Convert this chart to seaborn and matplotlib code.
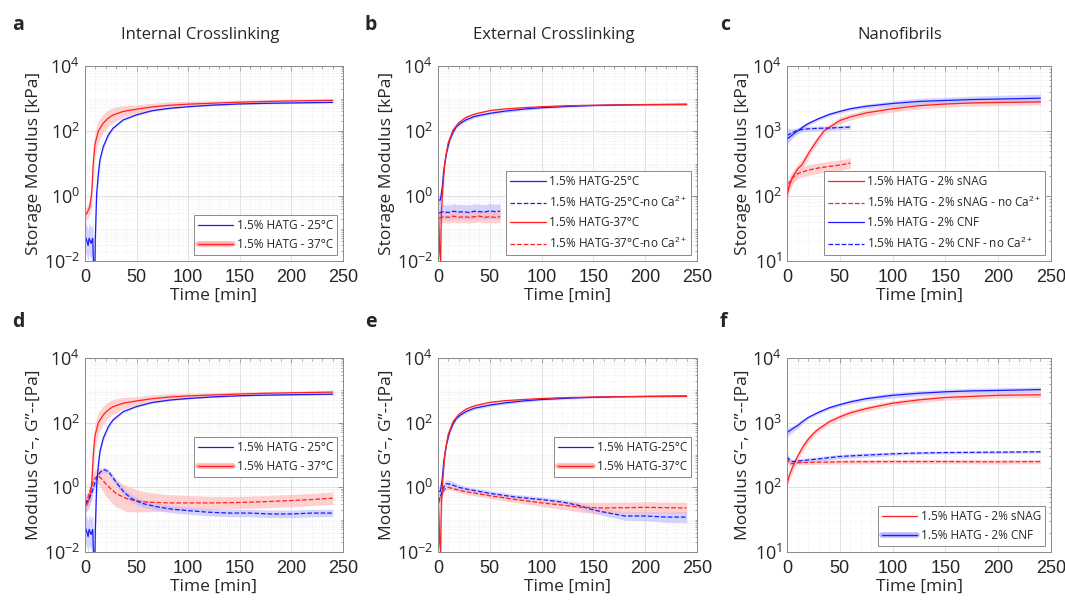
import matplotlib
matplotlib.use("Agg")
import matplotlib.pyplot as plt
from matplotlib.lines import Line2D
from matplotlib.ticker import FixedLocator, MultipleLocator, NullFormatter
import numpy as np
import seaborn as sns

# ---- data (time in min) ----
# G' internal crosslinking (panels a, d)
int25_t = [0, 2, 3, 4, 6, 7.5, 8.5, 9.5, 10, 11.3, 13, 14.5, 17.7, 22.6, 27, 37, 50, 65, 82, 100, 125, 150, 175, 200, 240]
int25_v = [0.06, 0.04, 0.03, 0.05, 0.035, 0.05, 0.004, 0.004, 0.05, 1.2, 5, 13, 33, 75, 120, 220, 315, 420, 500, 560, 630, 680, 710, 730, 760]
int25_s = [3, 3, 3, 3, 3, 3, 3, 3, 3, 2, 1.6, 1.3, 1.2, 1.15, 1.1, 1.08, 1.06, 1.05, 1.05, 1.04, 1.04, 1.04, 1.04, 1.04, 1.04]
int37_t = [0, 2, 4.5, 6.5, 8, 9.7, 13, 17.7, 22, 27, 37, 50, 65, 82, 100, 125, 150, 175, 200, 240]
int37_v = [0.25, 0.3, 0.45, 1.2, 10, 40, 100, 175, 240, 310, 400, 470, 550, 620, 670, 720, 770, 810, 840, 880]
int37_s = [1.6, 1.6, 1.7, 3, 3, 2.5, 2.1, 1.9, 1.8, 1.7, 1.5, 1.35, 1.3, 1.27, 1.22, 1.18, 1.15, 1.13, 1.12, 1.12]
# G'' internal crosslinking (panel d)
int25_g2_t = [0, 3, 6, 9, 12, 15, 19, 23, 27, 32, 38, 45, 55, 70, 85, 100, 120, 140, 160, 180, 200, 220, 240]
int25_g2_v = [0.3, 0.4, 0.6, 1.2, 2.2, 3.0, 3.5, 3.0, 2.0, 1.2, 0.7, 0.45, 0.32, 0.25, 0.21, 0.19, 0.17, 0.16, 0.16, 0.15, 0.15, 0.16, 0.16]
int25_g2_s = [2, 1.8, 1.5, 1.3, 1.2, 1.2, 1.2, 1.2, 1.25, 1.3, 1.3, 1.3, 1.3, 1.3, 1.3, 1.3, 1.3, 1.3, 1.3, 1.3, 1.3, 1.3, 1.3]
int37_g2_t = [0, 3, 6, 9, 12, 15, 20, 25, 30, 40, 50, 60, 80, 100, 125, 150, 175, 200, 220, 240]
int37_g2_v = [0.3, 0.5, 1.0, 1.8, 2.3, 2.0, 1.3, 0.9, 0.65, 0.45, 0.38, 0.35, 0.33, 0.33, 0.33, 0.34, 0.36, 0.39, 0.42, 0.46]
int37_g2_s = [1.5, 1.6, 1.8, 1.8, 1.8, 2, 2.3, 2.6, 2.6, 2.5, 2.2, 2, 1.8, 1.7, 1.6, 1.55, 1.55, 1.55, 1.55, 1.55]

# G' external crosslinking (panels b, e)
ext25_t = [0, 2.3, 4.2, 5.5, 8, 11.3, 14.5, 17.7, 22, 27, 35, 50, 65, 82, 100, 125, 150, 175, 200, 240]
ext25_v = [0.75, 0.75, 2, 6, 20, 52, 90, 135, 175, 220, 280, 350, 410, 470, 520, 570, 610, 635, 650, 670]
ext25_s = [1.4, 1.4, 1.3, 1.25, 1.2, 1.15, 1.12, 1.12, 1.12, 1.12, 1.12, 1.1, 1.1, 1.1, 1.08, 1.07, 1.06, 1.05, 1.05, 1.05]
ext37_t = [0, 1, 1.6, 2.5, 3.2, 4.8, 6.5, 9.7, 14.5, 20, 27, 35, 50, 65, 82, 100, 125, 150, 175, 200, 240]
ext37_v = [0.6, 0.1, 0.02, 0.01, 0.3, 2, 10, 42, 107, 180, 263, 330, 425, 480, 520, 560, 600, 620, 635, 645, 650]
ext37_s = [4, 6, 6, 6, 5, 1.6, 1.3, 1.2, 1.15, 1.12, 1.1, 1.1, 1.08, 1.07, 1.06, 1.05, 1.05, 1.04, 1.04, 1.04, 1.04]
# no Ca2+ controls (panel b)
noca_t = [1, 5, 10, 15, 20, 25, 30, 35, 40, 45, 50, 55, 60]
noca25_v = [0.3, 0.33, 0.31, 0.34, 0.32, 0.33, 0.31, 0.34, 0.33, 0.32, 0.35, 0.33, 0.34]
noca37_v = [0.21, 0.23, 0.22, 0.24, 0.22, 0.23, 0.22, 0.23, 0.24, 0.22, 0.23, 0.22, 0.23]
# G'' external crosslinking (panel e)
ext25_g2_t = [0, 3, 6, 8, 12, 20, 30, 50, 75, 100, 120, 135, 150, 165, 180, 200, 220, 240]
ext25_g2_v = [0.35, 0.6, 1.1, 1.3, 1.25, 1.0, 0.85, 0.65, 0.5, 0.42, 0.35, 0.28, 0.2, 0.16, 0.13, 0.13, 0.12, 0.12]
ext25_g2_s = [1.3, 1.3, 1.3, 1.3, 1.3, 1.25, 1.2, 1.2, 1.2, 1.2, 1.2, 1.25, 1.3, 1.3, 1.35, 1.4, 1.45, 1.5]
ext37_g2_t = [0, 3, 6, 10, 15, 25, 50, 75, 100, 125, 140, 160, 200, 240]
ext37_g2_v = [0.3, 0.5, 0.85, 1.0, 0.9, 0.75, 0.55, 0.42, 0.33, 0.27, 0.24, 0.23, 0.24, 0.23]
ext37_g2_s = [1.3, 1.2, 1.15, 1.15, 1.15, 1.2, 1.2, 1.25, 1.3, 1.35, 1.45, 1.5, 1.5, 1.5]

# nanofibrils, G' (panel c)
snag_t = [0, 2, 5, 10, 14, 22, 28, 35, 50, 60, 75, 100, 125, 150, 175, 200, 240]
snag_v = [100, 140, 190, 260, 300, 500, 700, 1000, 1450, 1650, 1900, 2200, 2450, 2600, 2700, 2750, 2800]
snag_s = [1.25, 1.25, 1.25, 1.2, 1.2, 1.15, 1.15, 1.12, 1.12, 1.12, 1.12, 1.12, 1.12, 1.12, 1.12, 1.12, 1.12]
cnf_t = [0, 3, 6, 10, 15, 20, 25, 30, 40, 50, 60, 75, 100, 125, 150, 175, 200, 240]
cnf_v = [750, 820, 900, 1000, 1150, 1300, 1420, 1550, 1800, 2000, 2200, 2400, 2650, 2850, 2950, 3050, 3100, 3200]
cnf_s = [1.2, 1.15, 1.12, 1.1, 1.08, 1.06, 1.06, 1.06, 1.06, 1.06, 1.06, 1.08, 1.1, 1.12, 1.12, 1.13, 1.14, 1.15]
snag_noca_t = [0, 2, 5, 10, 15, 20, 30, 40, 50, 60]
snag_noca_v = [120, 160, 190, 220, 235, 250, 270, 285, 300, 320]
snag_noca_s = [1.3, 1.25, 1.2, 1.2, 1.2, 1.2, 1.2, 1.2, 1.2, 1.2]
cnf_noca_t = [0, 5, 10, 15, 20, 30, 40, 50, 60]
cnf_noca_v = [850, 950, 1020, 1060, 1080, 1100, 1110, 1130, 1150]
cnf_noca_s = [1.3, 1.15, 1.1, 1.1, 1.1, 1.08, 1.08, 1.08, 1.08]
# nanofibrils, G' (panel f)
snag_f_t = [0, 2, 5, 10, 15, 20, 25, 30, 40, 50, 60, 75, 100, 125, 150, 175, 200, 240]
snag_f_v = [110, 150, 200, 300, 420, 550, 680, 800, 1030, 1230, 1420, 1650, 2000, 2250, 2450, 2550, 2650, 2700]
snag_f_s = [1.2, 1.2, 1.2, 1.15, 1.15, 1.12, 1.12, 1.1, 1.1, 1.1, 1.1, 1.1, 1.1, 1.1, 1.1, 1.1, 1.1, 1.1]
cnf_f_t = [0, 5, 10, 15, 20, 30, 40, 50, 60, 75, 100, 125, 150, 175, 200, 240]
cnf_f_v = [700, 800, 900, 1050, 1200, 1450, 1700, 1900, 2100, 2350, 2650, 2850, 3000, 3100, 3150, 3250]
cnf_f_s = [1.18, 1.12, 1.1, 1.08, 1.06, 1.06, 1.06, 1.06, 1.07, 1.08, 1.1, 1.1, 1.1, 1.1, 1.1, 1.1]
# nanofibrils, G'' (panel f)
snag_g2_t = [0, 3, 6, 10, 20, 50, 100, 150, 200, 240]
snag_g2_v = [280, 230, 235, 240, 243, 248, 250, 250, 248, 250]
snag_g2_s = [1.15, 1.08, 1.08, 1.08, 1.08, 1.08, 1.08, 1.08, 1.08, 1.08]
cnf_g2_t = [0, 2, 5, 10, 20, 30, 50, 75, 100, 125, 150, 200, 240]
cnf_g2_v = [300, 270, 250, 255, 265, 275, 300, 315, 330, 340, 345, 350, 355]
cnf_g2_s = [1.15, 1.1, 1.08, 1.08, 1.08, 1.08, 1.08, 1.08, 1.06, 1.05, 1.05, 1.05, 1.05]

titles = ["Internal Crosslinking", "External Crosslinking", "Nanofibrils"]
letters = ["a", "b", "c", "d", "e", "f"]
leg_a = ["1.5% HATG - 25°C", "1.5% HATG - 37°C"]
leg_b = ["1.5% HATG-25°C", "1.5% HATG-25°C-no Ca$^{2+}$", "1.5% HATG-37°C", "1.5% HATG-37°C-no Ca$^{2+}$"]
leg_c = ["1.5% HATG - 2% sNAG", "1.5% HATG - 2% sNAG - no Ca$^{2+}$",
         "1.5% HATG - 2% CNF", "1.5% HATG - 2% CNF - no Ca$^{2+}$"]
leg_e = ["1.5% HATG-25°C", "1.5% HATG-37°C"]
leg_f = ["1.5% HATG - 2% sNAG", "1.5% HATG - 2% CNF"]

BLUE = "#1a1aff"
RED = "#ff2020"
LBLUE = "#b8b8ff"
LRED = "#ffb4b4"

sns.set_theme(style="white")
plt.rcParams["font.family"] = ["Open Sans", "DejaVu Sans"]
plt.rcParams["mathtext.fontset"] = "custom"
plt.rcParams["mathtext.rm"] = "Liberation Sans"
plt.rcParams["mathtext.it"] = "Liberation Sans:italic"


def draw(ax, t, v, s, color, light, ls="-"):
    t = np.asarray(t, float)
    v = np.asarray(v, float)
    s = np.asarray(s, float)
    ax.fill_between(t, v / s, v * s, color=light, alpha=0.6, lw=0)
    sns.lineplot(x=t, y=v, ax=ax, color=color, lw=0.9, linestyle=ls,
                 legend=False, sort=False, estimator=None)


def setup(ax, ymin, ylabel):
    ax.set_yscale("log")
    ax.set_xlim(0, 250)
    ax.set_ylim(ymin, 1e4)
    ax.xaxis.set_major_locator(MultipleLocator(50))
    ax.xaxis.set_minor_locator(MultipleLocator(10))
    lo = int(round(np.log10(ymin)))
    step = 2 if lo < 0 else 1
    ax.yaxis.set_major_locator(FixedLocator([10.0 ** e for e in range(lo, 5, step)]))
    minors = [m * 10.0 ** e for e in range(lo, 4) for m in range(1, 10)]
    ax.yaxis.set_minor_locator(FixedLocator(minors))
    ax.yaxis.set_minor_formatter(NullFormatter())
    ax.grid(which="major", color="#dcdcdc", lw=0.6)
    ax.grid(which="minor", color="#e6e6e6", lw=0.5, ls=":")
    ax.set_axisbelow(True)
    for sp in ax.spines.values():
        sp.set_color("#8a8a8a")
        sp.set_linewidth(0.7)
    ax.tick_params(which="both", direction="in", top=True, right=True,
                   colors="#8a8a8a", labelcolor="#262626", labelsize=13)
    ax.tick_params(which="major", length=3.5, width=0.6)
    ax.tick_params(which="minor", length=1.8, width=0.5)
    ax.tick_params(axis="x", pad=6)
    for lb in ax.get_xticklabels():
        lb.set_fontfamily("Liberation Sans")
    ax.set_xlabel("Time [min]", fontsize=12.5, labelpad=1)
    ax.set_ylabel(ylabel, fontsize=12.5, labelpad=1)


def legend(ax, handles, labels, **kw):
    lg = ax.legend(handles, labels, frameon=True, fancybox=False, edgecolor="#8a8a8a",
                   framealpha=1, fontsize=8.5, handlelength=3.0, handletextpad=0.3,
                   borderpad=0.35, borderaxespad=0.5, **kw)
    lg.get_frame().set_linewidth(0.7)


def line(color, ls="-"):
    return Line2D([], [], color=color, lw=0.9, linestyle=ls)


def pale(color, light):
    return (Line2D([], [], color=light, lw=4), Line2D([], [], color=color, lw=0.9))


fig = plt.figure(figsize=(10.65, 6.01), dpi=100)
W, H = 1065, 601
lefts = [85, 438, 787]
widths = [258, 259, 264]
axes = []
for row, (top, bot) in enumerate([(66, 261), (358, 552)]):
    for col in range(3):
        ax = fig.add_axes([lefts[col] / W, 1 - bot / H, widths[col] / W, (bot - top) / H])
        axes.append(ax)
ax_a, ax_b, ax_c, ax_d, ax_e, ax_f = axes

# a
draw(ax_a, int37_t, int37_v, int37_s, RED, LRED)
draw(ax_a, int25_t, int25_v, int25_s, BLUE, LBLUE)
setup(ax_a, 1e-2, "Storage Modulus [kPa]")
legend(ax_a, [line(BLUE), pale(RED, LRED)], leg_a, loc="lower right")

# b
draw(ax_b, ext25_t, ext25_v, ext25_s, BLUE, LBLUE)
draw(ax_b, ext37_t, ext37_v, ext37_s, RED, LRED)
draw(ax_b, noca_t, noca25_v, [1.7] * len(noca_t), BLUE, LBLUE, "--")
draw(ax_b, noca_t, noca37_v, [1.5] * len(noca_t), RED, LRED, "--")
setup(ax_b, 1e-2, "Storage Modulus [kPa]")
legend(ax_b, [line(BLUE), line(BLUE, "--"), line(RED), line(RED, "--")], leg_b,
       loc="lower right", labelspacing=0.55)

# c
draw(ax_c, snag_t, snag_v, snag_s, RED, LRED)
draw(ax_c, cnf_t, cnf_v, cnf_s, BLUE, LBLUE)
draw(ax_c, snag_noca_t, snag_noca_v, snag_noca_s, RED, LRED, "--")
draw(ax_c, cnf_noca_t, cnf_noca_v, cnf_noca_s, BLUE, LBLUE, "--")
setup(ax_c, 1e1, "Storage Modulus [kPa]")
legend(ax_c, [line(RED), line(RED, "--"), line(BLUE), line(BLUE, "--")], leg_c,
       loc="lower right", labelspacing=0.55)

# d
draw(ax_d, int37_t, int37_v, int37_s, RED, LRED)
draw(ax_d, int25_t, int25_v, int25_s, BLUE, LBLUE)
draw(ax_d, int37_g2_t, int37_g2_v, int37_g2_s, RED, LRED, "--")
draw(ax_d, int25_g2_t, int25_g2_v, int25_g2_s, BLUE, LBLUE, "--")
setup(ax_d, 1e-2, "Modulus G’–, G”--[Pa]")
legend(ax_d, [line(BLUE), pale(RED, LRED)], leg_a, loc="center right",
       bbox_to_anchor=(1.0, 0.49))

# e
draw(ax_e, ext25_t, ext25_v, ext25_s, BLUE, LBLUE)
draw(ax_e, ext37_t, ext37_v, ext37_s, RED, LRED)
draw(ax_e, ext25_g2_t, ext25_g2_v, ext25_g2_s, BLUE, LBLUE, "--")
draw(ax_e, ext37_g2_t, ext37_g2_v, ext37_g2_s, RED, LRED, "--")
setup(ax_e, 1e-2, "Modulus G’–, G”--[Pa]")
legend(ax_e, [line(BLUE), pale(RED, LRED)], leg_e, loc="center right",
       bbox_to_anchor=(1.0, 0.49))

# f
draw(ax_f, snag_f_t, snag_f_v, snag_f_s, RED, LRED)
draw(ax_f, cnf_f_t, cnf_f_v, cnf_f_s, BLUE, LBLUE)
draw(ax_f, snag_g2_t, snag_g2_v, snag_g2_s, RED, LRED, "--")
draw(ax_f, cnf_g2_t, cnf_g2_v, cnf_g2_s, BLUE, LBLUE, "--")
setup(ax_f, 1e1, "Modulus G’–, G”--[Pa]")
legend(ax_f, [line(RED), pale(BLUE, LBLUE)], leg_f, loc="lower right")

# column titles sit slightly left of the axes centres, as in the original
for x, ttl in zip([200, 554, 900], titles):
    fig.text(x / W, 1 - 35 / H, ttl, fontsize=12, ha="center", va="center")

letter_pos = [(12, 25), (365, 25), (720, 25), (12, 322), (365, 322), (720, 322)]
for lt, (x, y) in zip(letters, letter_pos):
    fig.text(x / W, 1 - y / H, lt, fontsize=14, fontweight="bold", va="center", ha="left")

fig.savefig("out.png", dpi=100)
